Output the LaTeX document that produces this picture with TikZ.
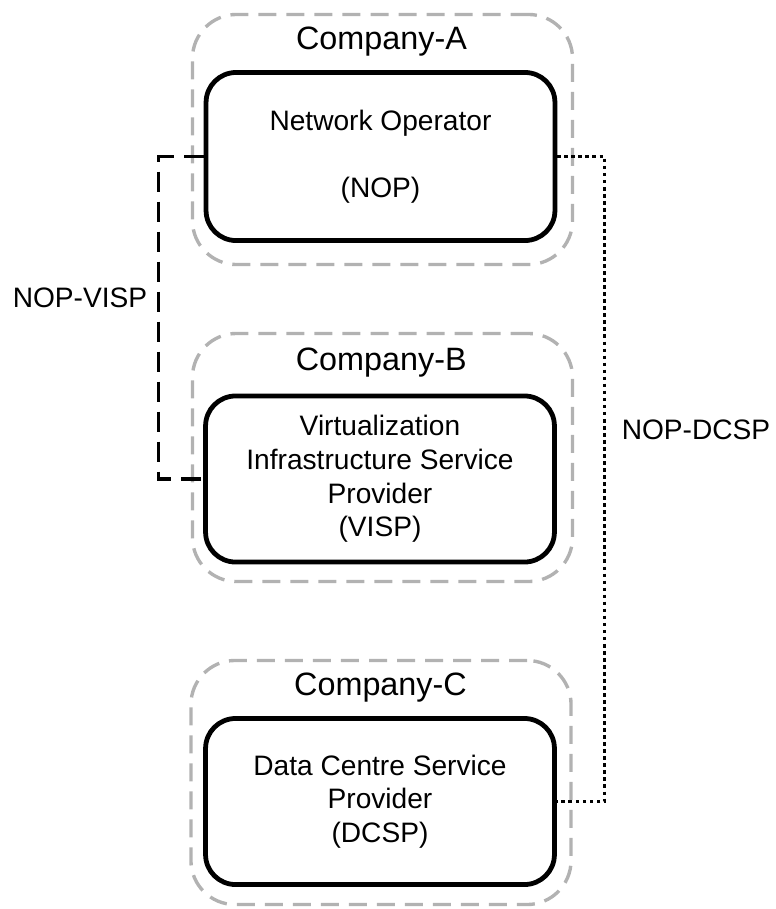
\documentclass[tikz,border=0pt]{standalone}
\usepackage{fontspec}
\setmainfont{Liberation Sans}
\usetikzlibrary{calc,positioning}

\begin{document}
\begin{tikzpicture}[x=0.025cm,y=-0.025cm,
	company/.style={draw=gray!60,line width=2.4pt,dash pattern=on 0.45cm off 0.25cm,rounded corners=1.1cm,minimum width=9.5cm},
	role/.style={draw,line width=3.4pt,rounded corners=0.75cm,align=center,minimum width=8.72cm,font=\fontsize{20}{24}\selectfont},
	tag/.style={font=\fontsize{23}{27}\selectfont},
	lbl/.style={font=\fontsize{20}{24}\selectfont},
	vispline/.style={line width=2.6pt,dash pattern=on 0.5cm off 0.25cm},
	dcspline/.style={line width=2.6pt,dash pattern=on 2.6pt off 2.4pt}]
\useasboundingbox (0,0) rectangle (776,909);
% companies
\node[company,minimum height=6.25cm] (compa) at (382.5,139.5) {};
\node[company,minimum height=6.2cm] (compb) at (382.5,457.5) {};
\node[company,minimum height=6.1cm] (compc) at (381,782.5) {};
% roles
\node[role,minimum height=4.2cm] (nop) at (380.5,156.5) {Network Operator\\[24pt](NOP)};
\node[role,minimum height=4.15cm] (visp) at (380,479) {Virtualization\\Infrastructure Service\\Provider\\(VISP)};
\node[role,minimum height=4.15cm] (dcsp) at (380,801.5) {Data Centre Service\\Provider\\(DCSP)};
\node[tag] at ($(compa.north)!0.5!(nop.north)$) {Company-A};
\node[tag] at ($(compb.north)!0.5!(visp.north)$) {Company-B};
\node[tag] at ($(compc.north)!0.5!(dcsp.north)$) {Company-C};
% relations
\draw[vispline] (nop.west) -- ++(-45,0) |- (visp.west);
\draw[dcspline] (nop.east) -- ++(47,0) |- (dcsp.east);
\node[lbl] (nopvisp) at (80,298) {NOP-VISP};
\node[lbl] (nopdcsp) at (696,430) {NOP-DCSP};
\end{tikzpicture}
\end{document}
